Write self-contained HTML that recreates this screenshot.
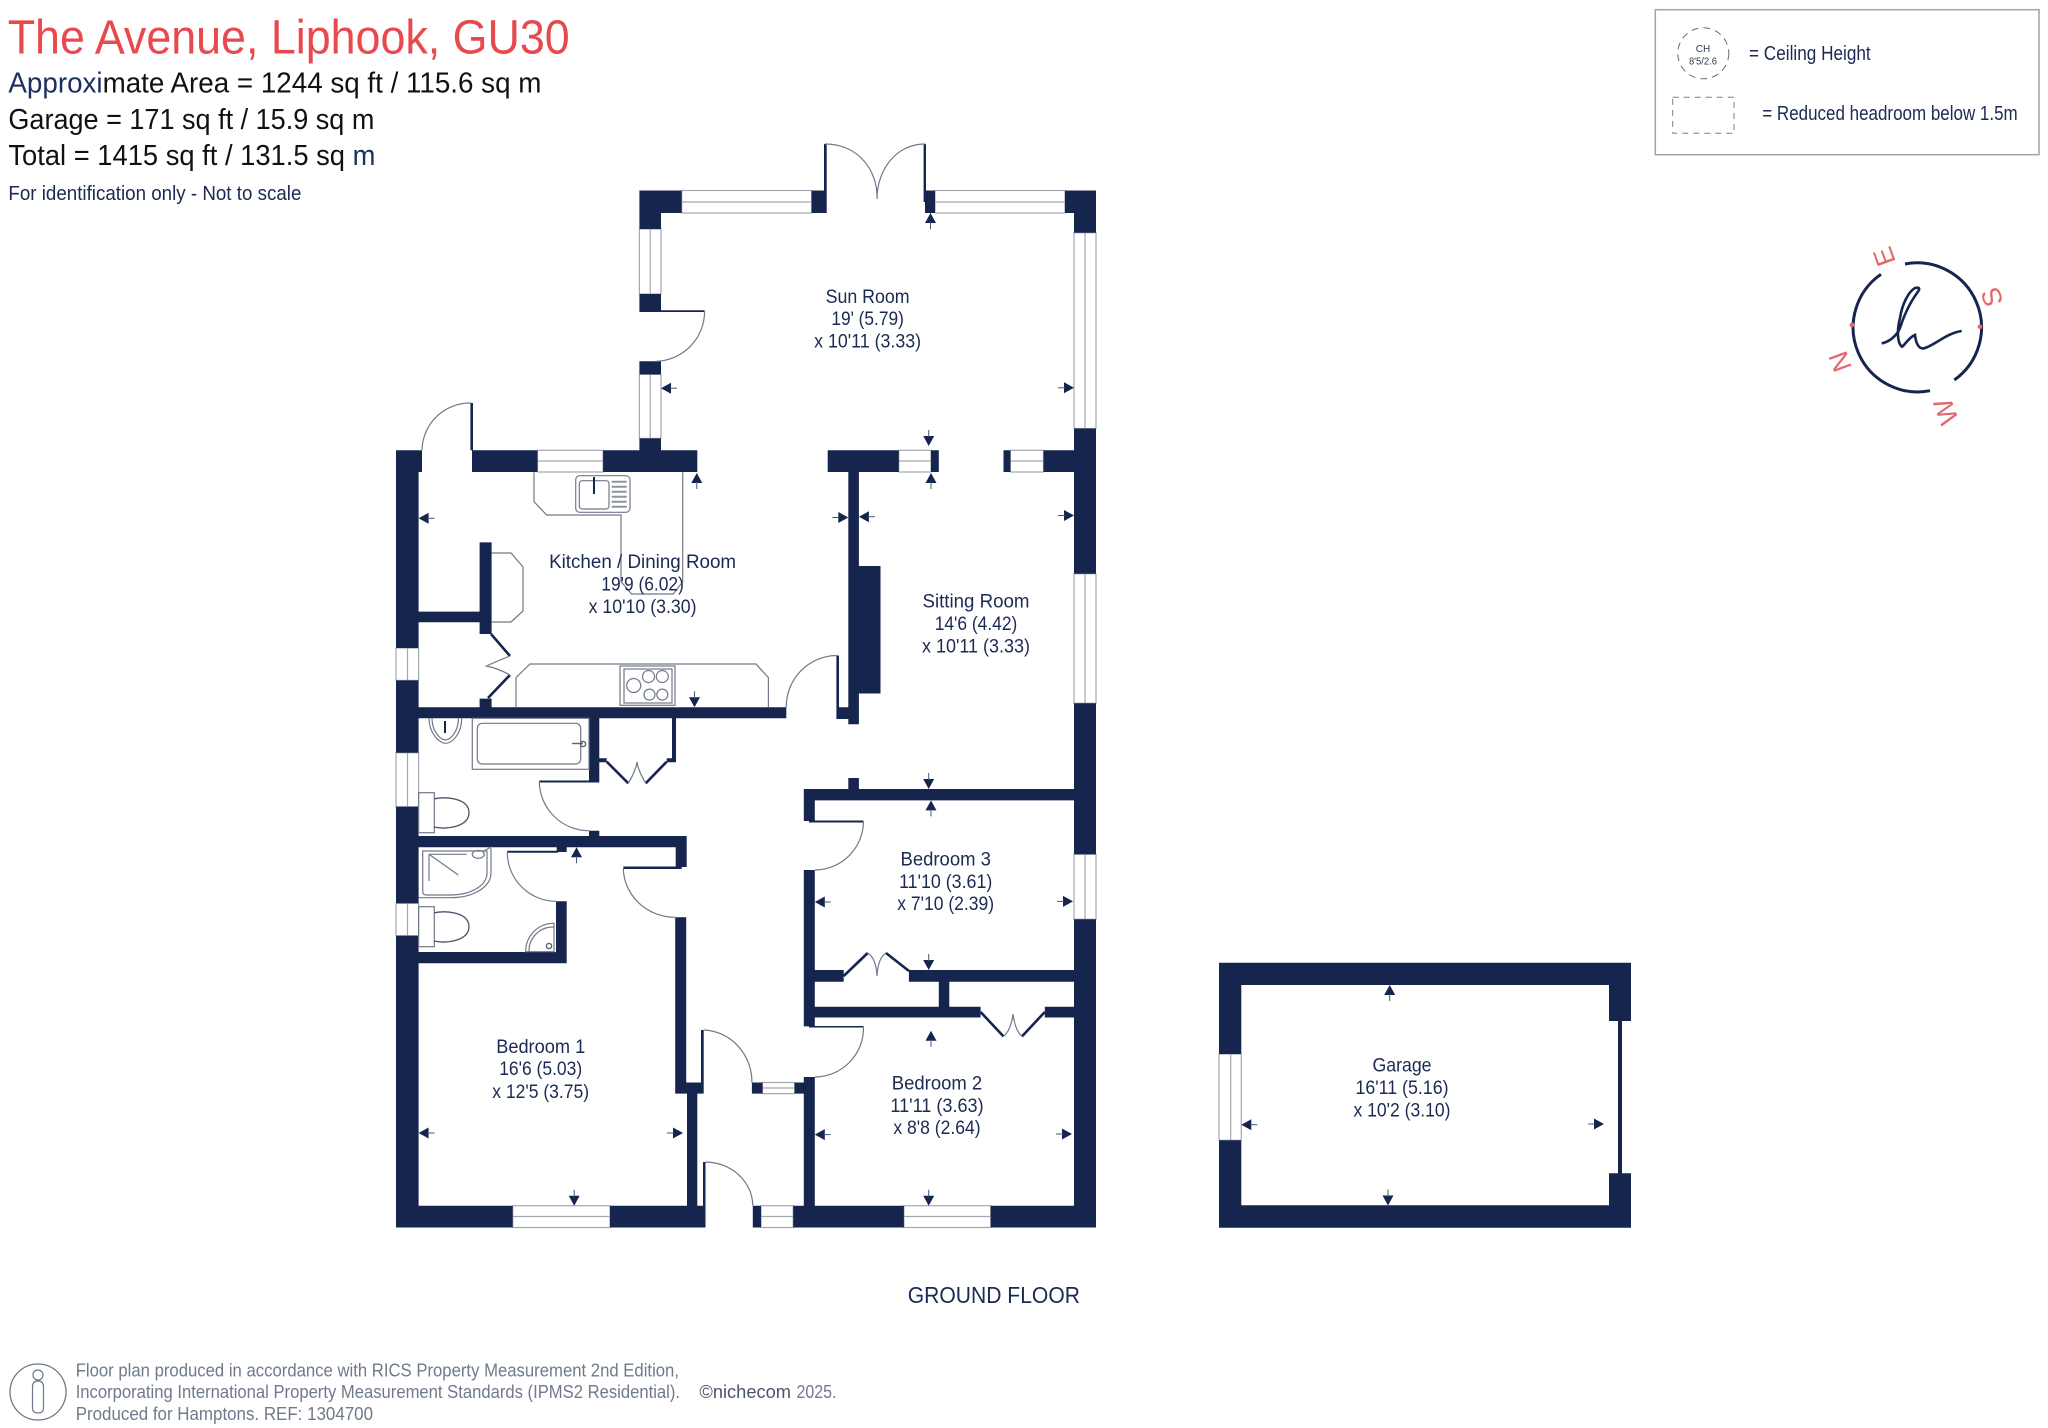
<!DOCTYPE html>
<html lang="en">
<head>
<meta charset="utf-8">
<title>The Avenue, Liphook, GU30 floor plan</title>
<style>
html,body{margin:0;padding:0;background:#fff;width:2048px;height:1428px;overflow:hidden}
svg{display:block}
text{font-family:"Liberation Sans",sans-serif}
.r{fill:#1b2a52;font-size:19.5px;text-anchor:middle}
.t{fill:none;stroke:#727889;stroke-width:1.2}
.d{fill:none;stroke:#4a5269;stroke-width:1.3}
.w{fill:#fff;stroke:#a3a7b1;stroke-width:1.2}
.f{fill:none;stroke:#16254e;stroke-width:2.6}
.c{fill:#e5666b;font-size:27px;text-anchor:middle}
.g{fill:#6f7a8c;font-size:18.5px}
</style>
</head>
<body>
<svg width="2048" height="1428" viewBox="0 0 2048 1428" xmlns="http://www.w3.org/2000/svg">
<rect width="2048" height="1428" fill="#fff"/>

<!-- Header -->
<text x="7.7" y="53.5" font-size="48" fill="#e8494e" textLength="562" lengthAdjust="spacingAndGlyphs">The Avenue, Liphook, GU30</text>
<text x="8.4" y="92.7" font-size="29" fill="#111" textLength="533" lengthAdjust="spacingAndGlyphs"><tspan fill="#1b2f5e">Approxi</tspan>mate Area = 1244 sq ft / 115.6 sq m</text>
<text x="8.4" y="129" font-size="29" fill="#111" textLength="366" lengthAdjust="spacingAndGlyphs">Garage = 171 sq ft / 15.9 sq m</text>
<text x="8.4" y="165" font-size="29" fill="#111" textLength="367" lengthAdjust="spacingAndGlyphs">Total = 1415 sq ft / 131.5 sq <tspan fill="#1b2f5e">m</tspan></text>
<text x="8.4" y="200" font-size="20.5" fill="#1b2a52" textLength="293" lengthAdjust="spacingAndGlyphs">For identification only - Not to scale</text>

<!-- Legend -->
<rect x="1655.3" y="9.7" width="383.7" height="145" fill="#fff" stroke="#a3a3a3" stroke-width="1.5"/>
<circle cx="1703.3" cy="53.3" r="25.5" fill="none" stroke="#666c78" stroke-width="1" stroke-dasharray="7 5"/>
<text x="1703" y="52" font-size="10" fill="#2b3858" text-anchor="middle">CH</text>
<text x="1703" y="64.5" font-size="10" fill="#2b3858" text-anchor="middle" textLength="28" lengthAdjust="spacingAndGlyphs">8'5/2.6</text>
<text x="1749" y="60" font-size="20" fill="#1b2a52" textLength="121.7" lengthAdjust="spacingAndGlyphs">= Ceiling Height</text>
<rect x="1672.7" y="97.3" width="61.3" height="36" fill="none" stroke="#7a7f89" stroke-width="1" stroke-dasharray="6 5"/>
<text x="1762.3" y="120" font-size="20" fill="#1b2a52" textLength="255.4" lengthAdjust="spacingAndGlyphs">= Reduced headroom below 1.5m</text>

<!-- Compass -->
<g fill="none" stroke="#16254e" stroke-width="3">
<path d="M1905 264A64.5 64.5 0 0 1 1954.3 380"/>
<path d="M1930 390.7A64.5 64.5 0 0 1 1881 274.3"/>
<path stroke-width="2.6" d="M1881.7 343.3C1890 342 1897 335 1900 328C1905 312 1912 300 1917 293C1921 288 1919 287 1915 288C1908 292 1902 305 1900 318C1897 330 1897 343 1902 346.7C1905 345 1908 338 1915 335C1916 345 1920 350 1925 348C1935 345 1947 333 1961.7 331"/>
</g>
<circle cx="1852" cy="325" r="2.4" fill="#e5666b"/>
<circle cx="1980" cy="326.7" r="2.4" fill="#e5666b"/>
<text class="c" transform="translate(1884 256.7) rotate(-110)" dy="9.5">E</text>
<text class="c" transform="translate(1991.7 297.3) rotate(-110)" dy="9.5">S</text>
<text class="c" transform="translate(1840 361.7) rotate(-110)" dy="9.5">N</text>
<text class="c" transform="translate(1945.7 411.7) rotate(-110)" dy="9.5">W</text>

<!-- Windows -->
<g class="w">
<rect x="681.7" y="190.5" width="129.9" height="22.5"/>
<rect x="935" y="190.5" width="130" height="22.5"/>
<rect x="639.4" y="229" width="21.6" height="65"/>
<rect x="639.4" y="374.4" width="21.6" height="64"/>
<rect x="1074" y="232.7" width="22" height="195.8"/>
<rect x="1074" y="573.7" width="22" height="129.6"/>
<rect x="1074" y="854.3" width="22" height="65"/>
<rect x="537.5" y="450.3" width="65.6" height="21.7"/>
<rect x="898.8" y="450.3" width="32.2" height="21.7"/>
<rect x="1010.4" y="450.3" width="33.1" height="21.7"/>
<rect x="396" y="648" width="22.6" height="32.4"/>
<rect x="396" y="752.7" width="22.6" height="54"/>
<rect x="396" y="903.3" width="22.6" height="32.4"/>
<rect x="762.5" y="1082.5" width="32.1" height="11.1"/>
<rect x="512.7" y="1205.7" width="97.3" height="21.8"/>
<rect x="761" y="1205.7" width="32.2" height="21.8"/>
<rect x="903.9" y="1205.7" width="86.8" height="21.8"/>
<rect x="1219" y="1054" width="22.3" height="86.3"/>
</g>
<g stroke="#a3a7b1" stroke-width="1.2">
<path d="M681.7 202H811.6M935 202H1065M650.2 229V294M650.2 374.4V438.4M1085 232.7V428.5M1085 573.7V703.3M1085 854.3V919.3M537.5 461H603.1M898.8 461H931M1010.4 461H1043.5M407.5 648V680.4M407.5 752.7V806.7M407.5 903.3V935.7M762.5 1088H794.6M512.7 1216.5H610M761 1216.5H793.2M903.9 1216.5H990.7M1230.7 1054V1140.3"/>
</g>

<!-- Walls -->
<path fill="#16254e" d="
M639.4 190.5H681.7V213H661V229H639.4Z
M811.6 190.5H824V144H826.7V190.5V213H811.6Z
M923.6 144H926V190.5H935V213H925V202H923.6Z
M1065 190.5H1096V232.7H1074V213H1065Z
M1074 428.5H1096V573.7H1074Z
M1074 703.3H1096V854.3H1074Z
M1074 919.3H1096V1227.5H990.7V1205.7H1074Z
M639.4 294H661V311H651V312H639.4Z
M651 310.3H704.6V312H651Z
M639.4 361.3H661V374.4H639.4Z
M639.4 438.4H661V450.3H697.3V472H603.1V450.3H639.4Z
M396 450.3H422V472H418.6V648H396Z
M470.4 403H473V450.3H537.5V472H472V450.3H470.4Z
M396 680.4H418.6V752.7H396Z
M396 806.7H418.6V903.3H396Z
M396 935.7H418.6V1205.7H512.7V1227.5H396Z
M610 1205.7H687V1093.6H675.2V917.3H686.2V1082.5H701V1030H703.7V1093.6H697.3V1205.7H703V1162H705.5V1227.5H610Z
M418.6 611.6H479.6V542.4H491.6V634H479.6V622.3H418.6Z
M479.6 698.6H491.6V707.3H786.3V718.3H676V758.3H676V762.3H666.7V758.3H672V718.3H599.3V758.3H606.7V762.3H599.3V782.5H539.3V780.5H589V718.3H418.6V707.3H479.6Z
M589 830.7H599.3V836H675.7H686.7V867H681.7V869H623.3V866.5H675.7V847.3H566.7V852H558V852.7H507.3V850.7H556.7V847.3H418.6V836H589Z
M556 901.3H566.7V963.3H418.6V952H556Z
M751.9 1082.5H814.8V1093.6H794.6V1082.5H762.5V1093.6H751.9Z
M752.8 1205.7H761V1227.5H752.8Z
M793.2 1205.7H803.8V1077H814.8V1205.7H903.9V1227.5H793.2Z
M803.8 870H814.8V970H843.7V981.8H814.8V1006.8H938.8V981.8H908.9V970H1074V981.8H949.3V1006.8H980.6V1017.5H814.8V1026H863.5V1027.5H809V1026.4H803.8Z
M803.8 789H848.3V778H858.9V789H1074V800.4H814.8V820.5H863.5V822.5H809V821H803.8Z
M1044.8 1006.8H1074V1017.5H1044.8Z
M827.7 450.3H898.8V472H858.9V566H880.5V693.5H858.9V724.3H848.3V719H836.4V655.5H839V707.3H848.3V472H827.7Z
M931 450.3H938.8V472H931Z
M1003.5 450.3H1010.4V472H1003.5Z
M1043.5 450.3H1074V472H1043.5Z
M1219 962.7H1631V1021H1622V1173.3H1631V1227.7H1219V1140.3H1241.3V1205.3H1609V1173.3H1618V1021H1609V985H1241.3V1054H1219Z
"/>

<!-- Folding door leaves -->
<path class="f" d="M491 634L510 656M488 698L510 675M606.7 761.7L628.3 783.3M666.7 761.7L645.7 783.3M843.7 976L867.7 953M909 971L886 953M980.6 1012L1003.5 1036.4M1044.8 1012L1022 1036.4"/>

<!-- Door swings and thin fixtures -->
<g class="t">
<path d="M704.6 311A50 50 0 0 1 655 361.3"/>
<path d="M825 144C858 144 878 170 877 199M925 144C896 144 877 170 877 199"/>
<path d="M471 403A48 48 0 0 0 422 450.3"/>
<path d="M836.4 655.5A51 51 0 0 0 786.3 707.3"/>
<path d="M539.3 782A49.7 49.7 0 0 0 589 830.7"/>
<path d="M507.3 852A49 49 0 0 0 556 901.3"/>
<path d="M623.3 869A52 50 0 0 0 675.7 917.3"/>
<path d="M863.5 822A49 49 0 0 1 814.8 870"/>
<path d="M863.5 1027.5A49 49 0 0 1 814.8 1077"/>
<path d="M703.7 1030A50 52 0 0 1 751.9 1082.5"/>
<path d="M705.5 1162A48 44 0 0 1 752.8 1205.7"/>
<path d="M510 656Q495 662 486.5 666Q497 668 510 675"/>
<path d="M628.3 783.3Q636 770 637 762Q638 770 645.7 783.3"/>
<path d="M867.7 953Q876 958 877 976Q878 958 886 953"/>
<path d="M1003.5 1036.4Q1011 1030 1013 1014Q1015 1030 1022 1036.4"/>
<path d="M491.6 553H511L523 567V611L511 622H491.6"/>
<path d="M534 472.3V501.7L546.7 515H621V581.7L631.7 594H673.3L682.7 581.7V472.3"/>
<path d="M516 707.3V677.6L530 664H756L768.4 677.6V707.3"/>
<rect x="575.7" y="475.7" width="54.3" height="36.6" rx="4"/>
<rect x="579.3" y="480.7" width="29.7" height="28.3" rx="3"/>
<rect x="620" y="666" width="55" height="39.3"/>
<rect x="624" y="669" width="48" height="34"/>
<circle cx="633.7" cy="685.5" r="7"/>
<circle cx="648.5" cy="676.5" r="6"/>
<circle cx="662.3" cy="676.5" r="6"/>
<circle cx="649.5" cy="694.6" r="5.5"/>
<circle cx="662.3" cy="694.6" r="5.5"/>
<rect x="472.3" y="718.3" width="116.7" height="51"/>
<rect x="477.3" y="723.3" width="103.4" height="40.7" rx="5"/>
<path d="M429 718.3C429 734 440 743.3 445.5 743.3C452 743.3 461.7 734 461.7 718.3M432 718.3C432 732 441 740 445.5 740C450 740 458.5 732 458.5 718.3"/>
<rect x="418.6" y="792.7" width="15.7" height="40"/>
<rect x="418.6" y="906.7" width="15.7" height="40"/>
<path d="M491 848V873C491 886 475 897.7 450 897.7H418.6"/>
<path d="M422.7 851H487V873C487 885 472 895 450 895H426Q422.7 895 422.7 891Z"/>
<path d="M429 854.3H466.7M429 854.3V881M429 854.3L458.3 875"/>
<ellipse cx="478.3" cy="854.3" rx="6" ry="4"/>
<path d="M482 852L491 847"/>
<path d="M554 923.3A28 28 0 0 0 525.7 951.7H554ZM554 927A24 24 0 0 0 529 951.7"/>
</g>
<g class="d">
<path d="M434.3 799C445 796 469 798 469 812.7C469 827 445 830 434.3 827"/>
<path d="M434.3 913C445 910 469 912 469 926.7C469 941 445 944 434.3 941"/>
</g>
<g stroke="#16254e" stroke-width="2" fill="none">
<path d="M594 477V494M445 721V733"/>
</g>
<g stroke="#5a6176" stroke-width="1.4" fill="none">
<path d="M572 743.5H583"/>
<circle cx="583" cy="744" r="2.6"/>
<circle cx="549" cy="946" r="2.6"/>
</g>
<g stroke="#8d92a0" stroke-width="2">
<path d="M611.7 481.7H626.7M611.7 486.7H626.7M611.7 491.7H626.7M611.7 496.7H626.7M611.7 501.7H626.7M611.7 506.7H626.7"/>
</g>

<!-- Dimension arrows -->
<defs>
<g id="a"><path d="M0 0L5.5 10H-5.5Z" fill="#16254e"/><path d="M0 9V16" stroke="#4a5675" stroke-width="1"/></g>
</defs>
<use href="#a" transform="translate(930.5 213)"/>
<use href="#a" transform="translate(661 388.2) rotate(-90)"/>
<use href="#a" transform="translate(1074 387.8) rotate(90)"/>
<use href="#a" transform="translate(928.7 446) rotate(180)"/>
<use href="#a" transform="translate(931 473)"/>
<use href="#a" transform="translate(696.8 473)"/>
<use href="#a" transform="translate(418.6 518.3) rotate(-90)"/>
<use href="#a" transform="translate(848.3 517.5) rotate(90)"/>
<use href="#a" transform="translate(858.9 516.7) rotate(-90)"/>
<use href="#a" transform="translate(1074 515.5) rotate(90)"/>
<use href="#a" transform="translate(694.5 707.3) rotate(180)"/>
<use href="#a" transform="translate(928.7 789) rotate(180)"/>
<use href="#a" transform="translate(931 800.4)"/>
<use href="#a" transform="translate(576.5 847.3)"/>
<use href="#a" transform="translate(814.8 902) rotate(-90)"/>
<use href="#a" transform="translate(1073 901.4) rotate(90)"/>
<use href="#a" transform="translate(928.7 970) rotate(180)"/>
<use href="#a" transform="translate(931 1030.7)"/>
<use href="#a" transform="translate(418.6 1133) rotate(-90)"/>
<use href="#a" transform="translate(683 1133) rotate(90)"/>
<use href="#a" transform="translate(814.8 1134.6) rotate(-90)"/>
<use href="#a" transform="translate(1072 1134) rotate(90)"/>
<use href="#a" transform="translate(574.2 1205.7) rotate(180)"/>
<use href="#a" transform="translate(928.7 1205.7) rotate(180)"/>
<use href="#a" transform="translate(1389.7 985)"/>
<use href="#a" transform="translate(1241.3 1124.7) rotate(-90)"/>
<use href="#a" transform="translate(1604 1124) rotate(90)"/>
<use href="#a" transform="translate(1388 1205.5) rotate(180)"/>

<!-- Room labels -->
<text class="r" x="867.6" y="303" textLength="84" lengthAdjust="spacingAndGlyphs">Sun Room</text>
<text class="r" x="867.6" y="325" textLength="72.5" lengthAdjust="spacingAndGlyphs">19' (5.79)</text>
<text class="r" x="867.6" y="347.5" textLength="107" lengthAdjust="spacingAndGlyphs">x 10'11 (3.33)</text>
<text class="r" x="642.6" y="568" textLength="187" lengthAdjust="spacingAndGlyphs">Kitchen / Dining Room</text>
<text class="r" x="642.6" y="590.6" textLength="82.6" lengthAdjust="spacingAndGlyphs">19'9 (6.02)</text>
<text class="r" x="642.6" y="613" textLength="108" lengthAdjust="spacingAndGlyphs">x 10'10 (3.30)</text>
<text class="r" x="976" y="607.6" textLength="107" lengthAdjust="spacingAndGlyphs">Sitting Room</text>
<text class="r" x="976" y="630" textLength="82.6" lengthAdjust="spacingAndGlyphs">14'6 (4.42)</text>
<text class="r" x="976" y="652.7" textLength="108" lengthAdjust="spacingAndGlyphs">x 10'11 (3.33)</text>
<text class="r" x="945.7" y="865.7" textLength="90.4" lengthAdjust="spacingAndGlyphs">Bedroom 3</text>
<text class="r" x="945.7" y="888" textLength="93.2" lengthAdjust="spacingAndGlyphs">11'10 (3.61)</text>
<text class="r" x="945.7" y="910" textLength="96.9" lengthAdjust="spacingAndGlyphs">x 7'10 (2.39)</text>
<text class="r" x="540.7" y="1053" textLength="89" lengthAdjust="spacingAndGlyphs">Bedroom 1</text>
<text class="r" x="540.7" y="1075" textLength="83" lengthAdjust="spacingAndGlyphs">16'6 (5.03)</text>
<text class="r" x="540.7" y="1098" textLength="96.9" lengthAdjust="spacingAndGlyphs">x 12'5 (3.75)</text>
<text class="r" x="937" y="1089.6" textLength="90.4" lengthAdjust="spacingAndGlyphs">Bedroom 2</text>
<text class="r" x="937" y="1112" textLength="93.2" lengthAdjust="spacingAndGlyphs">11'11 (3.63)</text>
<text class="r" x="937" y="1134" textLength="87.2" lengthAdjust="spacingAndGlyphs">x 8'8 (2.64)</text>
<text class="r" x="1402" y="1071.7" textLength="59" lengthAdjust="spacingAndGlyphs">Garage</text>
<text class="r" x="1402" y="1094" textLength="93" lengthAdjust="spacingAndGlyphs">16'11 (5.16)</text>
<text class="r" x="1402" y="1116.7" textLength="97" lengthAdjust="spacingAndGlyphs">x 10'2 (3.10)</text>
<text x="907.7" y="1303" font-size="23.5" fill="#1b2a52" textLength="172.3" lengthAdjust="spacingAndGlyphs">GROUND FLOOR</text>

<!-- Footer -->
<ellipse cx="38" cy="1392" rx="28" ry="28" fill="none" stroke="#6f7a8c" stroke-width="1.3"/>
<circle cx="38" cy="1375" r="5" fill="none" stroke="#6f7a8c" stroke-width="1.2"/>
<path d="M32.5 1387Q32.5 1381 38 1381Q43.5 1381 43.5 1387V1408Q43.5 1413 38 1413Q32.5 1413 32.5 1408Z" fill="none" stroke="#6f7a8c" stroke-width="1.2"/>
<text class="g" x="75.7" y="1376.7" textLength="603.3" lengthAdjust="spacingAndGlyphs">Floor plan produced in accordance with RICS Property Measurement 2nd Edition,</text>
<text class="g" x="75.7" y="1398" textLength="604.3" lengthAdjust="spacingAndGlyphs">Incorporating International Property Measurement Standards (IPMS2 Residential).</text>
<text x="699.4" y="1398" font-size="18.5" fill="#4a5568" textLength="91.6" lengthAdjust="spacingAndGlyphs">©nichecom</text>
<text class="g" x="796.5" y="1398" textLength="40" lengthAdjust="spacingAndGlyphs">2025.</text>
<text class="g" x="75.7" y="1420" textLength="297.3" lengthAdjust="spacingAndGlyphs">Produced for Hamptons.  REF:  1304700</text>
</svg>
</body>
</html>
